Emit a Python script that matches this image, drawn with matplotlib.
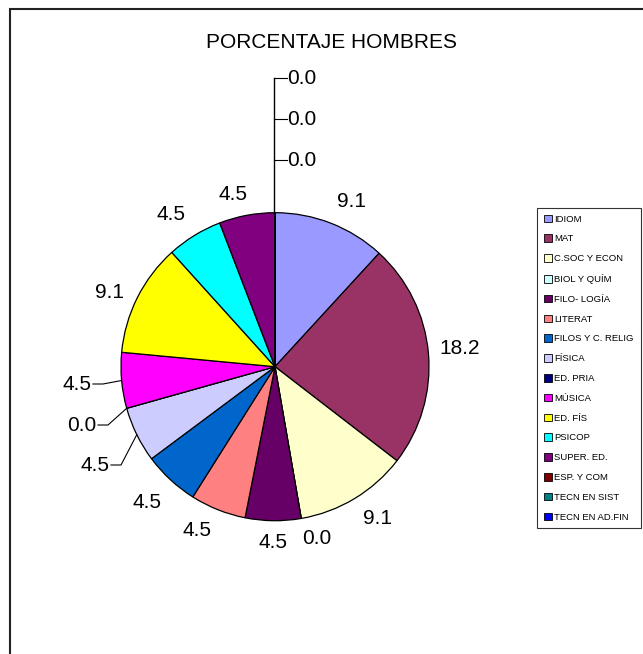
#!/usr/bin/env python3
"""Gráfico circular: porcentaje de hombres por especialidad."""

import numpy as np
import matplotlib
matplotlib.use("Agg")
import matplotlib.pyplot as plt
from matplotlib.patches import Patch, Rectangle

plt.rcParams["font.family"] = ["Liberation Sans", "DejaVu Sans"]

TITLE = "PORCENTAJE HOMBRES"
CATEGORIES = [
    "IDIOM", "MAT", "C.SOC Y ECON", "BIOL Y QUÍM", "FILO- LOGÍA", "LITERAT",
    "FILOS Y C. RELIG", "FÍSICA", "ED. PRIA", "MÚSICA", "ED. FÍS", "PSICOP",
    "SUPER. ED.", "ESP. Y COM", "TECN EN SIST", "TECN EN AD.FIN",
]
VALUES = [9.1, 18.2, 9.1, 0.0, 4.5, 4.5, 4.5, 4.5, 0.0, 4.5, 9.1, 4.5, 4.5, 0.0, 0.0, 0.0]
COLORS = [
    "#9999FF", "#993366", "#FFFFCC", "#CCFFFF", "#660066", "#FF8080",
    "#0066CC", "#CCCCFF", "#000080", "#FF00FF", "#FFFF00", "#00FFFF",
    "#800080", "#800000", "#008080", "#0000FF",
]

# layout (pixels in the 643x654 picture)
W, H = 643, 654
CX, CY, R = 275, 366.7, 154
# label centres in pixels
LABEL_PX = {
    0: (351, 201), 1: (460, 348), 2: (377, 519), 3: (317, 538),
    4: (273, 542), 5: (197, 531), 6: (147, 502), 7: (95, 465),
    8: (82, 425), 9: (77, 384), 10: (109, 292), 11: (171, 214),
    12: (233, 194), 13: (302, 160), 14: (302, 119), 15: (302, 78),
}
LEFT_LEADERS = [7, 8, 9]
TOP_LEADERS = [13, 14, 15]


def px(x, y):
    return (x - CX) / R, (CY - y) / R


def main() -> None:
    fig = plt.figure(figsize=(W / 100, H / 100), dpi=100)
    ax = fig.add_axes([0, 0, 1, 1])

    wedges, _ = ax.pie(
        VALUES, colors=COLORS, startangle=90, counterclock=False, radius=1,
        wedgeprops={"edgecolor": "black", "linewidth": 0.9},
    )
    ax.set_aspect("auto")
    ax.set_xlim(-CX / R, (W - CX) / R)
    ax.set_ylim(-(H - CY) / R, CY / R)
    ax.axis("off")

    for i, w in enumerate(wedges):
        x, y = px(*LABEL_PX[i])
        ax.text(x, y, f"{VALUES[i]:.1f}", fontsize=15, ha="center", va="center")

    # left leader lines
    for i in LEFT_LEADERS:
        w = wedges[i]
        ang = np.deg2rad((w.theta1 + w.theta2) / 2)
        ax_pt = (np.cos(ang), np.sin(ang))
        lx, ly = LABEL_PX[i]
        start = px(lx + 16, ly)
        elbow = px(lx + 26, ly)
        ax.plot([start[0], elbow[0], ax_pt[0]], [start[1], elbow[1], ax_pt[1]],
                color="black", lw=0.8)

    # top leader line for the zero slices
    top_y = min(LABEL_PX[i][1] for i in TOP_LEADERS)
    x0, y0 = px(CX - 1, top_y)
    ax.plot([x0, x0], [y0, 1.0], color="black", lw=1.0)
    for i in TOP_LEADERS:
        _, ly = LABEL_PX[i]
        a = px(CX - 1, ly)
        b = px(CX + 12, ly)
        ax.plot([a[0], b[0]], [a[1], b[1]], color="black", lw=0.8)

    fig.text(332 / W, 1 - 42 / H, TITLE, fontsize=15, ha="center", va="center")

    handles = [Patch(facecolor=c, edgecolor="black", linewidth=0.6) for c in COLORS]
    leg = fig.legend(
        handles, CATEGORIES, loc="upper left",
        bbox_to_anchor=(537 / W, 1 - 208 / H), fontsize=6.8,
        frameon=True, fancybox=False, handlelength=0.85, handleheight=0.85,
        handletextpad=0.3, labelspacing=1.14, borderpad=0.7, borderaxespad=0,
    )
    leg.get_frame().set_edgecolor("black")
    leg.get_frame().set_linewidth(0.8)

    fig.patches.append(Rectangle((10 / W, -0.05), 1.1, 1 - 9 / H + 0.05,
                                 transform=fig.transFigure, fill=False,
                                 edgecolor="#222222", linewidth=1.5))

    fig.savefig("out.png", dpi=100)
    plt.close(fig)


if __name__ == "__main__":
    main()
